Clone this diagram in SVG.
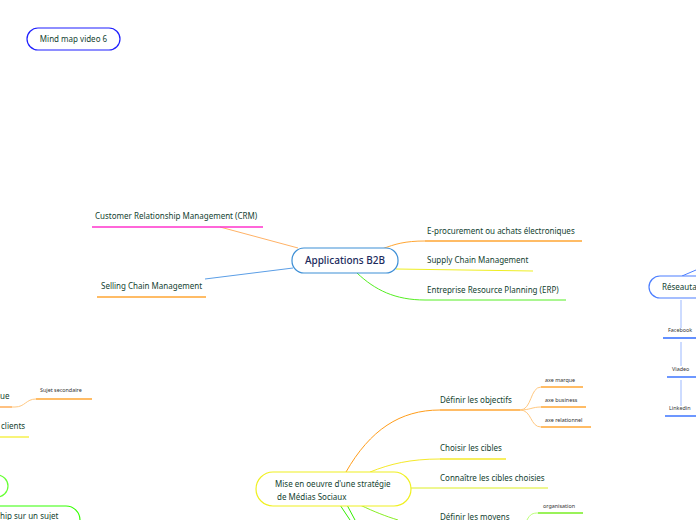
<svg xmlns="http://www.w3.org/2000/svg" width="696" height="520" viewBox="0 0 696 520">
<style>
text{font-family:"Noto Sans","Open Sans","DejaVu Sans",sans-serif;fill:#133f31}
.t8{font-size:8px}
.t5{font-size:5.4px;fill:#333}
.box{fill:#fff;stroke-width:1.2}
.c{fill:none;stroke-width:1}
.u{fill:none;stroke-width:1.4}
</style>
<rect width="696" height="520" fill="#fff"/>
<g id="connectors">
<path class="c" d="M220,227 L298,248" stroke="#ffb266"/>
<path class="c" d="M205,279 L293,268" stroke="#5b9ee6"/>
<path class="c" d="M382,249 C395,244 405,241 425,241" stroke="#ffa633"/>
<path class="c" d="M396,269 L533,271" stroke="#eeee22"/>
<path class="c" d="M357,273 C375,290 395,300 425,300 L566,300" stroke="#55ee22"/>
<path class="c" d="M346,472 C370,430 400,410 440,410" stroke="#ff9d1a"/>
<path class="c" d="M370,472 C390,464 410,459 440,459" stroke="#f5e92a"/>
<path class="c" d="M411,488 L548,488" stroke="#ddee22"/>
<path class="c" d="M340,505 L350,520 M347,505 L355,520" stroke="#33ee00" stroke-width="1.5"/>
<path class="c" d="M360,505 C375,512 385,516 398,520" stroke="#88ee22"/>
<path class="c" d="M520,410 C532,410 530,387 541,387 M520,410 C530,410 532,407 541,407 M520,410 C532,410 530,427 541,427" stroke="#ffc880"/>
<path class="c" d="M527,520 C530,514 533,513 538,513" stroke="#bbff77"/>
<path class="c" d="M682,276 L696,270" stroke="#4d7fff"/>
<path class="c" d="M681,300 V328 M681,342 V366 M681,380 V406" stroke="#9bb8ff"/>
<path class="c" d="M0,407 L15,407 C25,407 26,399 36,399" stroke="#ffc880"/>
</g>
<g id="mindmap">
<rect class="box" x="27" y="28" width="93" height="22" rx="11" stroke="#1f1fff"/>
<text class="t8" x="73.5" y="42" text-anchor="middle">Mind map video 6</text>
</g>
<g id="applications">
<rect class="box" x="292" y="248" width="106" height="25" rx="12" stroke="#3d8fd6"/>
<text x="345" y="264" text-anchor="middle" style="font-size:10px;fill:#1b2a5c;font-weight:500">Applications B2B</text>
</g>
<g id="crm">
<text class="t8" x="95" y="219">Customer Relationship Management (CRM)</text>
<path class="u" d="M92,227 H263" stroke="#ff33cc"/>
</g>
<g id="selling">
<text class="t8" x="101" y="289">Selling Chain Management</text>
<path class="u" d="M97,297 H206" stroke="#ffa633"/>
</g>
<g id="eproc">
<text class="t8" x="427" y="234">E-procurement ou achats électroniques</text>
<path class="u" d="M425,241 H582" stroke="#ffa633"/>
</g>
<g id="supply">
<text class="t8" x="427" y="263">Supply Chain Management</text>
</g>
<g id="erp">
<text class="t8" x="427" y="293">Entreprise Resource Planning (ERP)</text>
</g>
<g id="reseautage">
<rect class="box" x="649" y="276" width="80" height="22" rx="11" stroke="#4d7fff"/>
<text class="t8" x="662" y="290">Réseautage</text>
</g>
<g id="facebook">
<text class="t5" x="668" y="332">Facebook</text>
<path class="u" d="M663,338 H696" stroke="#2f6bff"/>
</g>
<g id="viadeo">
<text class="t5" x="672" y="371">Viadeo</text>
<path class="u" d="M667,377 H696" stroke="#2f6bff"/>
</g>
<g id="linkedin">
<text class="t5" x="669" y="410">Linkedin</text>
<path class="u" d="M665,416 H696" stroke="#2f6bff"/>
</g>
<g id="mise">
<rect class="box" x="256" y="472" width="155" height="34" rx="17" stroke="#f0f020"/>
<text class="t8" x="275" y="487">Mise en oeuvre d'une stratégie</text>
<text class="t8" x="277" y="500">de Médias Sociaux</text>
</g>
<g id="objectifs">
<text class="t8" x="440" y="403">Définir les objectifs</text>
<path class="u" d="M440,410 H520" stroke="#ffa633" stroke-width="1"/>
</g>
<g id="axe-marque">
<text class="t5" x="545" y="382">axe marque</text>
<path class="u" d="M541,387 H583" stroke="#ffa633"/>
</g>
<g id="axe-business">
<text class="t5" x="545" y="402">axe business</text>
<path class="u" d="M541,407 H586" stroke="#ffa633"/>
</g>
<g id="axe-relationnel">
<text class="t5" x="545" y="422">axe relationnel</text>
<path class="u" d="M541,427 H591" stroke="#ffa633"/>
</g>
<g id="cibles">
<text class="t8" x="440" y="451">Choisir les cibles</text>
<path class="u" d="M440,459 H506" stroke="#f5e92a" stroke-width="1"/>
</g>
<g id="connaitre">
<text class="t8" x="440" y="481">Connaître les cibles choisies</text>
</g>
<g id="moyens">
<text class="t8" x="440" y="520">Définir les moyens</text>
</g>
<g id="organisation">
<text class="t5" x="543" y="508">organisation</text>
<path class="u" d="M538,513 H583" stroke="#77ee22"/>
</g>
<g id="left-ue">
<text class="t8" x="0" y="399">ue</text>
<path class="u" d="M0,407 H12" stroke="#ffb266"/>
</g>
<g id="sujet-secondaire">
<text class="t5" x="40" y="392">Sujet secondaire</text>
<path class="u" d="M36,399 H92" stroke="#ffa633"/>
</g>
<g id="left-clients">
<text class="t8" x="1" y="429">clients</text>
<path class="u" d="M0,437 H29" stroke="#f5f040"/>
</g>
<g id="left-green">
<rect class="box" x="-40" y="475" width="48" height="22" rx="11" stroke="#66ff33"/>
</g>
<g id="left-leadership">
<rect class="box" x="-60" y="506" width="140" height="40" rx="14" stroke="#33ff00"/>
<text class="t8" x="0" y="519">hip sur un sujet</text>
</g>
</svg>
